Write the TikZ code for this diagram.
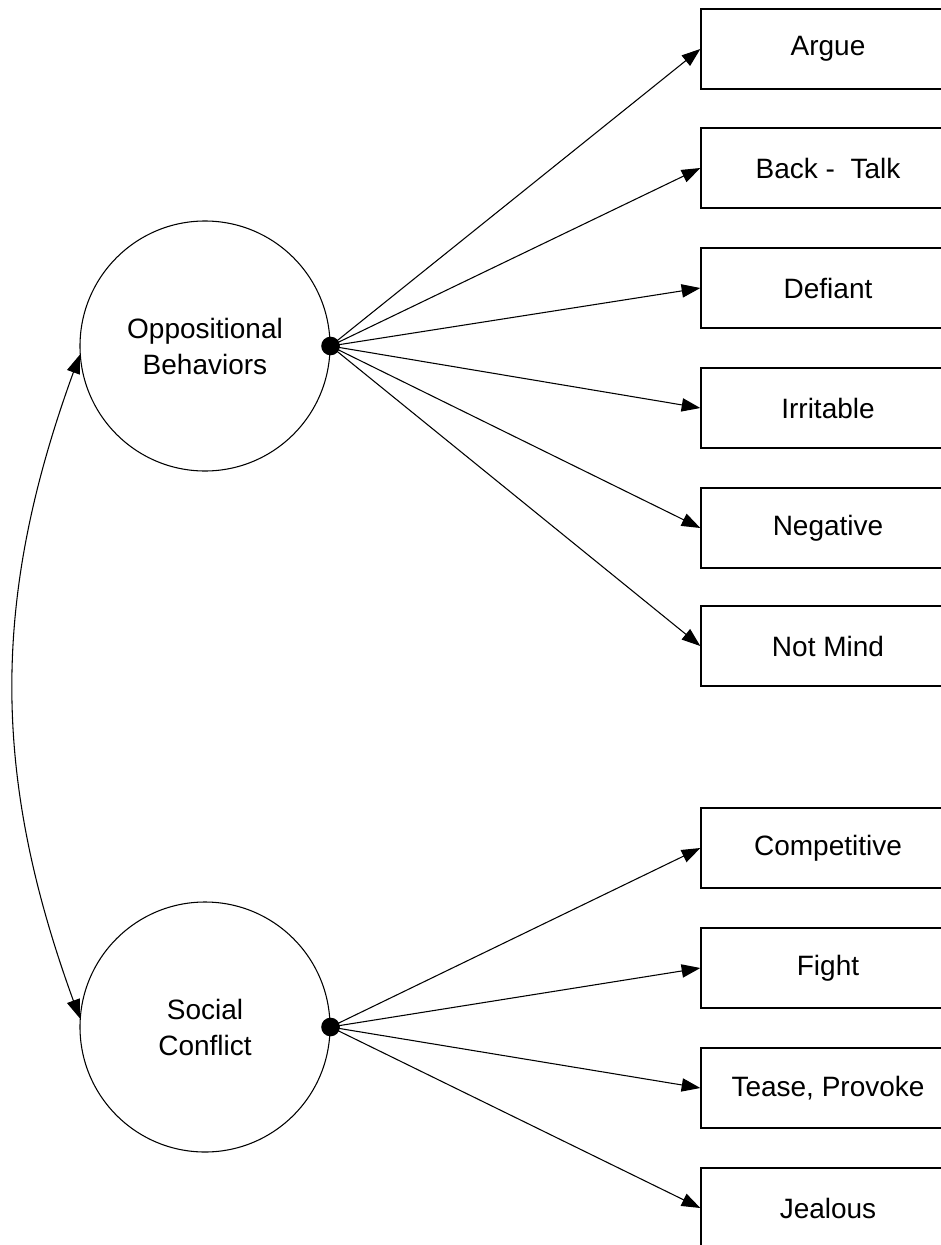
\documentclass[tikz,border=0pt]{standalone}
\usepackage{fontspec}
\setmainfont{Liberation Sans}
\usepackage{tikz}
\usetikzlibrary{arrows.meta}
\usetikzlibrary{positioning}

\begin{document}
\begin{tikzpicture}[x=0.75pt, y=-0.75pt,
        factor/.style={draw, circle, line width=0.8pt, minimum size=187.5pt, inner sep=0pt, align=center, font=\fontsize{21}{27}\selectfont},
        item/.style={draw, rectangle, line width=1pt, minimum width=190.5pt, minimum height=60pt, inner sep=0pt, font=\fontsize{21}{24}\selectfont},
        load/.style={-{Triangle[length=14pt,width=10pt]}, line width=0.8pt}]
            \clip (0,0) rectangle (941,1245);
            % latent factors
            \node[factor] (opp) at (205,346) {Oppositional\\Behaviors};
            \node[factor] (soc) at (205,1027) {Social\\Conflict};
            % indicators
            \node[item] (argue) at (828,49) {Argue};
            \node[item] (back) at (828,168) {Back -\ \ Talk};
            \node[item] (defiant) at (828,288) {Defiant};
            \node[item] (irritable) at (828,408) {Irritable};
            \node[item] (negative) at (828,528) {Negative};
            \node[item] (notmind) at (828,646) {Not Mind};
            \node[item] (compet) at (828,848) {Competitive};
            \node[item] (fight) at (828,968) {Fight};
            \node[item] (tease) at (828,1088) {Tease, Provoke};
            \node[item] (jealous) at (828,1208) {Jealous};
            \fill (opp.east) circle[radius=7pt];
            \fill (soc.east) circle[radius=7pt];
            \foreach \b in {argue,back,defiant,irritable,negative,notmind}
                \draw[load] (opp.east) -- (\b.west);
            \foreach \b in {compet,fight,tease,jealous}
                \draw[load] (soc.east) -- (\b.west);
            \draw[{Triangle[length=14pt,width=10pt]}-{Triangle[length=14pt,width=10pt]}, line width=0.8pt] (opp.184) to[bend right=20] (soc.176);
        \end{tikzpicture}
\end{document}
